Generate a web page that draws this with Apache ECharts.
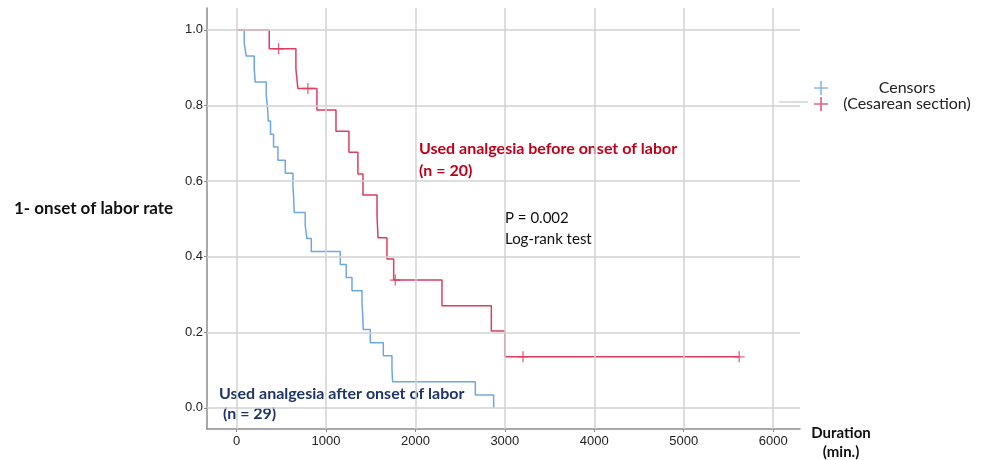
<!DOCTYPE html>
<html>
<head>
<meta charset="utf-8">
<script src="https://cdn.jsdelivr.net/npm/echarts@6/dist/echarts.min.js"></script>
<style>
  html, body { margin: 0; background: #fff; }
  #chart { width: 982px; height: 460px; }
</style>
</head>
<body>
<div id="chart"></div>
<script>
// tick labels
const xTicks = [0, 1000, 2000, 3000, 4000, 5000, 6000]
const yTicks = [0, 0.2, 0.4, 0.6, 0.8, 1.0]

// after onset of labor (n = 29)
const afterTimes = [0, 86, 108, 198, 209, 332, 347, 355, 380, 414, 463, 545, 631, 640, 645, 768, 787, 836,
  1160, 1227, 1291, 1403, 1412, 1417, 1496, 1641, 1738, 1745, 2670, 2875]
const afterSurv = [1, 0.966, 0.931, 0.897, 0.862, 0.828, 0.793, 0.759, 0.724, 0.690, 0.655, 0.621, 0.586, 0.552, 0.517,
  0.483, 0.448, 0.414, 0.379, 0.345, 0.310, 0.276, 0.241, 0.207, 0.172, 0.138, 0.103, 0.069, 0.034, 0]

// before onset of labor (n = 20)
const beforeTimes = [0, 366, 664, 686, 899, 1112, 1257, 1357, 1414, 1571, 1582, 1682, 1757, 2297, 2849, 3000, 5620]
const beforeSurv = [1, 0.95, 0.897, 0.845, 0.788, 0.732, 0.676, 0.619, 0.563, 0.507, 0.450, 0.394, 0.338, 0.270, 0.203, 0.135, 0.135]

// censored cases (before onset group)
const censorTimes = [470, 798, 1775, 3203, 5620]
const censorSurv = [0.95, 0.845, 0.338, 0.135, 0.135]

const blue = '#6fa6e6'
const red = '#dd3d5f'
const plusIcon = 'path://M4.4,0h1.2v10h-1.2z M0,4.4h10v1.2h-10z'
const labelFont = 'Liberation Sans, Arial, sans-serif'
const textFont = 'Lato, Open Sans, sans-serif'

const zip = (a, b) => a.map((v, i) => [v, b[i]])

const chart = echarts.init(document.getElementById('chart'))

chart.setOption({
  animation: false,
  grid: { left: 207, right: 182, top: 8, bottom: 31 },
  xAxis: {
    type: 'value',
    min: -330,
    max: 6300,
    axisLine: { onZero: false, lineStyle: { color: '#8c8c8c', width: 1.5 } },
    axisTick: { show: true, customValues: xTicks, length: 3, lineStyle: { color: '#8c8c8c' } },
    axisLabel: { customValues: xTicks, formatter: v => String(v), color: '#222', fontSize: 13, fontFamily: labelFont, margin: 6 },
    splitLine: { show: false }
  },
  yAxis: {
    type: 'value',
    min: -0.056,
    max: 1.058,
    axisLine: { show: true, onZero: false, lineStyle: { color: '#8c8c8c', width: 1.5 } },
    axisTick: { show: true, customValues: yTicks, length: 3, lineStyle: { color: '#8c8c8c' } },
    axisLabel: {
      customValues: yTicks,
      formatter: v => v.toFixed(1),
      color: '#222', fontSize: 13, fontFamily: labelFont, margin: 4
    },
    splitLine: { show: false }
  },
  legend: {
    orient: 'vertical',
    left: 809,
    top: 75,
    itemGap: 0,
    itemWidth: 14,
    itemHeight: 14,
    formatter: name => '{c|' + name + '}',
    textStyle: {
      rich: { c: { fontFamily: textFont, fontSize: 16, color: '#222', width: 148, align: 'center', lineHeight: 18 } }
    },
    data: [
      { name: 'Censors', icon: plusIcon, itemStyle: { color: blue } },
      { name: '(Cesarean section)', icon: plusIcon, itemStyle: { color: red } }
    ]
  },
  series: [
    {
      // grid lines
      type: 'line',
      data: [],
      silent: true,
      markLine: {
        silent: true,
        symbol: 'none',
        label: { show: false },
        lineStyle: { color: '#d2d2d2', width: 1.5, type: 'solid' },
        data: xTicks.map(v => ({ xAxis: v })).concat(yTicks.map(v => ({ yAxis: v })))
      },
      z: 1
    },
    {
      name: 'after',
      type: 'line',
      step: 'end',
      showSymbol: false,
      data: zip(afterTimes, afterSurv),
      lineStyle: { color: blue, width: 1.5 },
      itemStyle: { color: blue },
      z: 3
    },
    {
      name: 'before',
      type: 'line',
      step: 'end',
      showSymbol: false,
      data: zip(beforeTimes, beforeSurv),
      lineStyle: { color: red, width: 1.5 },
      itemStyle: { color: red },
      z: 4
    },
    {
      name: 'Censors',
      type: 'scatter',
      data: [],
      symbol: plusIcon,
      itemStyle: { color: blue }
    },
    {
      name: '(Cesarean section)',
      type: 'scatter',
      data: zip(censorTimes, censorSurv),
      symbol: plusIcon,
      symbolSize: 11,
      itemStyle: { color: red },
      z: 5
    }
  ],
  graphic: [
    { type: 'line', shape: { x1: 779, y1: 102, x2: 808, y2: 102 }, style: { stroke: '#bdbdbd', lineWidth: 1 } },
    {
      type: 'text', left: 14, top: 200,
      style: { text: '1- onset of labor rate', font: 'bold 17px ' + textFont, fill: '#111' }
    },
    {
      type: 'text', left: 419, top: 138,
      style: { text: 'Used analgesia before onset of labor\n(n = 20)', font: 'bold 16px ' + textFont, fill: '#c0001a', lineHeight: 22 }
    },
    {
      type: 'text', left: 505, top: 208,
      style: { text: 'P = 0.002\nLog-rank test', font: '15px ' + textFont, fill: '#111', lineHeight: 21 }
    },
    {
      type: 'text', left: 219, top: 384,
      style: { text: 'Used analgesia after onset of labor\n (n = 29)', font: 'bold 16px ' + textFont, fill: '#1f3566', lineHeight: 20 }
    },
    {
      type: 'text', x: 841, y: 424,
      style: { text: 'Duration\n(min.)', font: 'bold 15px ' + textFont, fill: '#111', align: 'center', lineHeight: 19 }
    }
  ]
})
</script>
</body>
</html>
